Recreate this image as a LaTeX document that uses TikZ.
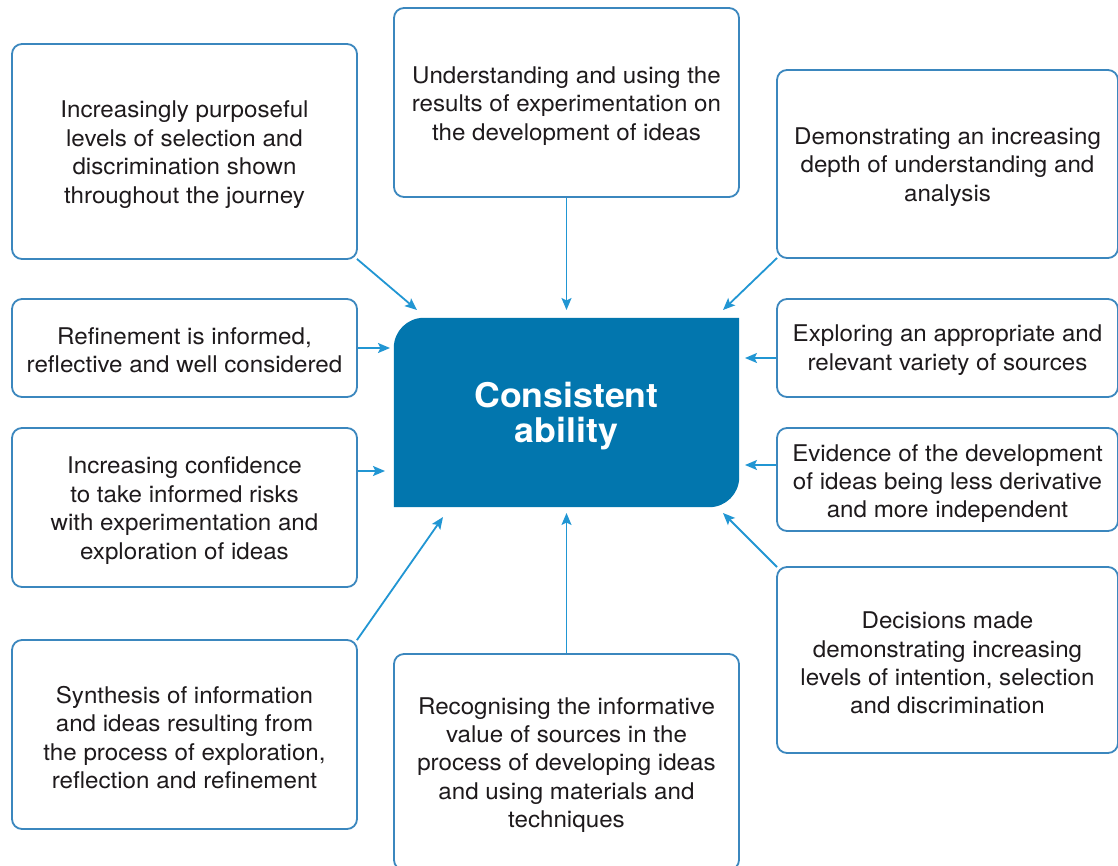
\documentclass[tikz,border=0pt]{standalone}
\usepackage{fontspec}
\setmainfont{TeX Gyre Heros}[FakeStretch=1.05]
\usetikzlibrary{arrows.meta,calc,backgrounds}
\definecolor{cblue}{HTML}{0276AE}
\definecolor{arrblue}{HTML}{2196D3}
\definecolor{bordblue}{HTML}{3B87BE}
\definecolor{txt}{HTML}{1E1A1C}
\tikzset{
  card/.style={draw=bordblue, line width=1.8pt, rounded corners=10pt, fill=white,
    inner sep=0pt},
  ctext/.style={align=center, inner sep=0pt, text=txt,
    font=\fontsize{23}{28.4}\selectfont},
  arr/.style={draw=arrblue, line width=1.8pt,
    -{Stealth[length=12pt,width=10pt,inset=2.5pt]}},
}
\begin{document}
\begin{tikzpicture}[x=1pt,y=-1pt]
\useasboundingbox (0,0) rectangle (1118,865);
\clip (0,0) rectangle (1118,865);

% centre box
\node[minimum width=345pt, minimum height=189pt, inner sep=0pt] (C) at (566.5,412.5) {};
\begin{scope}[on background layer]
\fill[white] (0,0) rectangle (1118,865);
\fill[cblue] (C.south west) -- ($(C.north west)+(0pt,-30pt)$) arc(180:90:30pt)
  -- (C.north east) -- ($(C.south east)+(0pt,30pt)$) arc(0:-90:30pt) -- cycle;
\end{scope}
\node[align=center, inner sep=0pt, text=white,
  font=\fontsize{34}{35}\selectfont\bfseries] (Ct) at ([yshift=-4pt]C.center)
  {Consistent\\ability};

% left column
\node[card, minimum width=345pt, minimum height=215pt] (L1) at (184.5,151.5) {};
\node[ctext] (L1t) at ([yshift=-3pt]L1.center)
  {Increasingly purposeful\\levels of selection and\\discrimination shown\\throughout the journey};
\node[card, minimum width=345pt, minimum height=98pt] (L2) at (184.5,348) {};
\node[ctext] (L2t) at ([yshift=-2pt]L2.center)
  {Refinement is informed,\\reflective and well considered};
\node[card, minimum width=345pt, minimum height=159pt] (L3) at (184.5,507.5) {};
\node[ctext] (L3t) at ([yshift=-3pt]L3.center)
  {Increasing confidence\\to take informed risks\\with experimentation and\\exploration of ideas};
\node[card, minimum width=345pt, minimum height=189pt] (L4) at (184.5,734.5) {};
\node[ctext] (L4t) at ([yshift=-3pt]L4.center)
  {Synthesis of information\\and ideas resulting from\\the process of exploration,\\reflection and refinement};

% top and bottom
\node[card, minimum width=345pt, minimum height=189pt] (T) at (566.5,102.5) {};
\node[ctext] (Tt) at ([yshift=-3.5pt]T.center)
  {Understanding and using the\\results of experimentation on\\the development of ideas};
\node[card, minimum width=345pt, minimum height=216pt] (B) at (566.5,762) {};
\node[ctext] (Bt) at ([yshift=-3pt]B.center)
  {Recognising the informative\\value of sources in the\\process of developing ideas\\and using materials and\\techniques};

% right column
\node[card, minimum width=341pt, minimum height=188pt] (R1) at (947.5,164) {};
\node[ctext] (R1t) at ([yshift=-3pt]R1.center)
  {Demonstrating an increasing\\depth of understanding and\\analysis};
\node[card, minimum width=341pt, minimum height=98pt] (R2) at (947.5,348) {};
\node[ctext] (R2t) at ([yshift=-2pt]R2.center)
  {Exploring an appropriate and\\relevant variety of sources};
\node[card, minimum width=341pt, minimum height=103pt] (R3) at (947.5,479.5) {};
\node[ctext] (R3t) at ([yshift=-4pt]R3.center)
  {Evidence of the development\\of ideas being less derivative\\and more independent};
\node[card, minimum width=341pt, minimum height=186pt] (R4) at (947.5,660) {};
\node[ctext] (R4t) at ([yshift=-3pt]R4.center)
  {Decisions made\\demonstrating increasing\\levels of intention, selection\\and discrimination};

% arrow tips
\coordinate (tL1) at (417,310);
\coordinate (tL2) at (390,348);
\coordinate (tL3) at (385,471);
\coordinate (tL4) at (443,517);
\coordinate (tT) at (566.5,310);
\coordinate (tB) at (566.5,513);
\coordinate (tR1) at (723,310);
\coordinate (tR2) at (745,358);
\coordinate (tR3) at (745,465);
\coordinate (tR4) at (723,513);

\draw[arr] ($(L1.south east)+(-1pt,1pt)$) -- (tL1);
\draw[arr] (L2.east) -- (tL2);
\draw[arr] (L3.east |- tL3) -- (tL3);
\draw[arr] ($(L4.north east)+(-1pt,-1pt)$) -- (tL4);
\draw[arr] (T.south) -- (tT);
\draw[arr] (B.north) -- (tB);
\draw[arr] ($(R1.south west)+(1pt,1pt)$) -- (tR1);
\draw[arr] (R2.west |- tR2) -- (tR2);
\draw[arr] (R3.west |- tR3) -- (tR3);
\draw[arr] ($(R4.north west)+(1pt,-1pt)$) -- (tR4);
\end{tikzpicture}
\end{document}
